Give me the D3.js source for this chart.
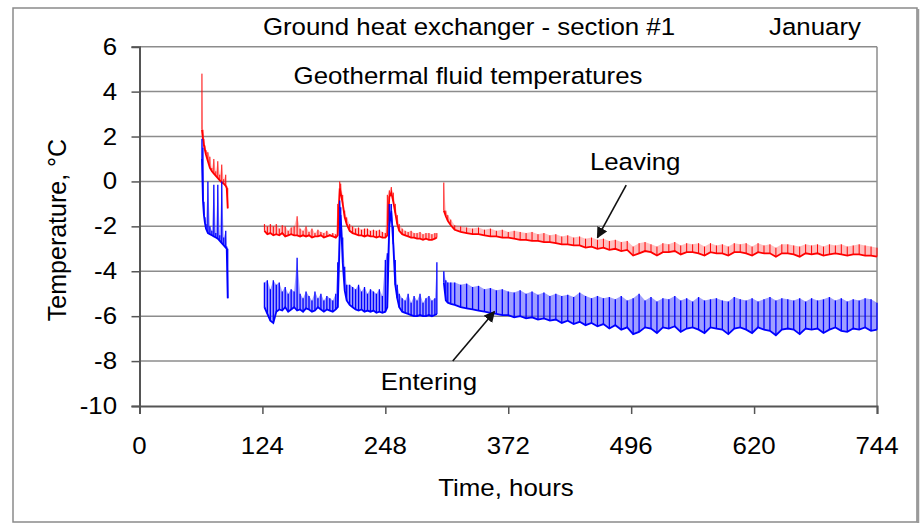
<!DOCTYPE html>
<html><head><meta charset="utf-8">
<script src="https://cdn.jsdelivr.net/npm/d3@7"></script>
<style>html,body{margin:0;padding:0;background:#fff;} svg{display:block;}</style>
</head><body>
<script>
// ---- data ----
const xTicks = [0, 124, 248, 372, 496, 620, 744];
const yTicks = [-10, -8, -6, -4, -2, 0, 2, 4, 6];

const hours = [
  63,64,65,66,67,69,71,73,75,77,79,81,83,85,87,88,89,
  105,
  126,129,132,135,138,141,144,147,150,153,156,159,162,165,168,171,174,177,180,183,186,189,192,195,198,
  200,202,203,205,207,209,212,
  215,218,221,224,227,230,233,236,239,242,245,248,
  250,252,254,256,258,260,262,
  265,268,271,274,277,280,283,286,289,292,295,298,300,
  304,
  307,309,311,314,
  318,324,330,336,342,348,354,360,366,372,378,384,
  390,396,402,408,414,420,426,432,438,444,450,456,
  462,468,474,480,486,492,498,504,510,516,522,528,
  534,540,546,552,558,564,570,576,582,588,594,600,
  606,612,618,624,630,636,642,648,654,660,666,672,
  678,684,690,696,702,708,714,720,726,732,738,744
];

const leavingLow = [
  2.3,1.9,1.6,1.4,1.2,0.9,0.6,0.45,0.35,0.25,0.15,0.05,-0.05,-0.1,-0.2,-0.3,-1.2,
  null,
  -2.2,-2.35,-2.3,-2.4,-2.35,-2.4,-2.3,-2.45,-2.4,-2.35,-2.4,-2.4,-2.45,-2.4,-2.45,-2.4,-2.5,-2.45,-2.45,-2.4,-2.5,-2.45,-2.4,-2.45,-2.5,
  -2.4,-0.3,-0.5,-1.0,-1.6,-1.9,-2.2,
  -2.3,-2.35,-2.4,-2.4,-2.45,-2.4,-2.45,-2.45,-2.5,-2.45,-2.5,-2.5,
  -2.4,-0.7,-0.5,-0.9,-1.4,-1.9,-2.2,
  -2.35,-2.4,-2.45,-2.5,-2.5,-2.55,-2.55,-2.6,-2.55,-2.6,-2.6,-2.55,-2.5,
  null,
  -1.3,-1.55,-1.75,-1.95,
  -2.15,-2.25,-2.3,-2.35,-2.35,-2.4,-2.45,-2.45,-2.5,-2.5,-2.55,-2.6,
  -2.6,-2.65,-2.65,-2.7,-2.7,-2.75,-2.8,-2.8,-2.85,-2.85,-2.95,-2.9,
  -3.0,-2.95,-3.05,-3.0,-3.1,-3.05,-3.3,-3.2,-3.1,-3.15,-3.3,-3.15,
  -3.15,-3.1,-3.25,-3.15,-3.15,-3.2,-3.3,-3.15,-3.2,-3.2,-3.3,-3.15,
  -3.15,-3.2,-3.3,-3.15,-3.2,-3.2,-3.35,-3.2,-3.2,-3.25,-3.35,-3.2,
  -3.25,-3.2,-3.3,-3.25,-3.2,-3.25,-3.3,-3.25,-3.25,-3.3,-3.3,-3.35
];
const leavingHigh = [
  4.8,2.3,1.9,1.6,1.4,1.3,1.1,0.6,1.0,0.45,0.9,0.3,0.75,0.1,0.3,-0.2,-0.3,
  null,
  -1.9,-2.0,-1.9,-2.0,-1.9,-2.1,-1.95,-2.0,-2.2,-2.05,-2.0,-1.55,-2.1,-2.2,-2.0,-2.25,-2.1,-2.3,-2.15,-2.25,-2.3,-2.2,-2.35,-2.3,-2.35,
  -1.0,0.0,-0.1,-0.6,-1.3,-1.6,-1.9,
  -2.0,-2.1,-2.05,-2.15,-2.1,-2.1,-2.2,-2.15,-2.2,-2.15,-2.25,-2.3,
  -0.6,-0.4,-0.25,-0.5,-1.0,-1.5,-1.9,
  -2.1,-2.2,-2.25,-2.2,-2.3,-2.3,-2.25,-2.35,-2.3,-2.3,-2.35,-2.3,-2.3,
  null,
  -0.05,-1.3,-1.5,-1.7,
  -1.95,-2.0,-2.05,-2.1,-2.05,-2.15,-2.1,-2.2,-2.15,-2.25,-2.2,-2.25,
  -2.3,-2.25,-2.35,-2.3,-2.4,-2.35,-2.45,-2.4,-2.5,-2.45,-2.55,-2.5,
  -2.6,-2.55,-2.65,-2.6,-2.7,-2.65,-2.9,-2.75,-2.7,-2.8,-2.9,-2.75,
  -2.8,-2.7,-2.85,-2.75,-2.8,-2.75,-2.9,-2.75,-2.85,-2.8,-2.9,-2.75,
  -2.8,-2.75,-2.9,-2.75,-2.85,-2.8,-2.95,-2.8,-2.8,-2.85,-2.9,-2.8,
  -2.85,-2.8,-2.9,-2.8,-2.85,-2.8,-2.9,-2.85,-2.8,-2.85,-2.9,-2.95
];
const enteringLow = [
  1.0,-0.85,-1.5,-1.85,-2.1,-2.3,-2.35,-2.4,-2.45,-2.5,-2.55,-2.65,-2.75,-2.85,-2.95,-3.0,-5.2,
  null,
  -5.6,-5.9,-6.2,-6.3,-5.8,-5.7,-5.75,-5.6,-5.8,-5.7,-5.6,-5.75,-5.7,-5.8,-5.65,-5.7,-5.8,-5.75,-5.6,-5.7,-5.8,-5.7,-5.75,-5.8,-5.7,
  -5.6,-2.5,-1.5,-3.6,-4.85,-5.3,-5.5,
  -5.6,-5.7,-5.75,-5.7,-5.8,-5.75,-5.8,-5.75,-5.85,-5.8,-5.85,-5.8,
  -5.6,-2.0,-1.3,-2.8,-4.6,-5.2,-5.6,
  -5.8,-5.85,-5.9,-5.95,-6.0,-6.0,-5.95,-6.0,-6.0,-5.95,-6.0,-5.95,-5.9,
  null,
  -4.5,-5.3,-5.4,-5.45,
  -5.5,-5.6,-5.65,-5.7,-5.75,-5.8,-5.85,-5.9,-5.95,-5.95,-6.05,-6.0,
  -6.1,-6.05,-6.15,-6.1,-6.2,-6.15,-6.3,-6.2,-6.35,-6.25,-6.4,-6.3,
  -6.45,-6.35,-6.55,-6.4,-6.6,-6.5,-6.8,-6.7,-6.5,-6.55,-6.75,-6.5,
  -6.55,-6.45,-6.7,-6.55,-6.5,-6.6,-6.75,-6.5,-6.55,-6.6,-6.8,-6.55,
  -6.5,-6.6,-6.75,-6.5,-6.6,-6.65,-6.85,-6.6,-6.55,-6.6,-6.8,-6.55,
  -6.6,-6.55,-6.75,-6.6,-6.5,-6.65,-6.7,-6.55,-6.6,-6.5,-6.65,-6.6
];
const enteringHigh = [
  1.9,1.5,-0.9,-1.6,-1.9,0.0,-2.0,-2.2,-0.15,-2.3,-0.15,-2.4,0.0,-2.5,-2.2,-2.9,-3.0,
  null,
  -4.5,-4.4,-4.8,-4.4,-4.6,-4.5,-4.9,-4.7,-5.0,-4.8,-4.9,-3.4,-5.0,-5.2,-4.9,-5.1,-5.3,-4.9,-5.2,-5.0,-5.3,-5.1,-5.2,-5.3,-5.0,
  -3.6,-0.85,-1.15,-2.5,-3.8,-4.6,-4.6,
  -4.7,-4.8,-4.6,-4.9,-4.7,-5.0,-4.8,-4.9,-5.0,-4.8,-5.1,-3.5,
  -3.2,-1.0,-1.0,-2.0,-3.5,-4.6,-5.0,
  -5.2,-5.3,-5.0,-5.4,-5.1,-5.3,-5.0,-5.4,-5.2,-5.1,-5.3,-5.2,-3.6,
  null,
  -4.0,-4.4,-4.5,-4.5,
  -4.5,-4.6,-4.55,-4.7,-4.65,-4.8,-4.75,-4.85,-4.8,-4.9,-4.95,-4.85,
  -5.0,-4.9,-5.05,-4.95,-5.1,-5.0,-5.1,-5.05,-5.15,-4.95,-5.1,-5.2,
  -5.1,-5.2,-5.15,-5.25,-5.1,-5.3,-5.2,-5.0,-5.3,-5.15,-5.35,-5.2,
  -5.25,-5.1,-5.3,-5.2,-5.35,-5.15,-5.3,-5.25,-5.2,-5.3,-5.35,-5.15,
  -5.25,-5.3,-5.2,-5.35,-5.25,-5.15,-5.3,-5.2,-5.25,-5.3,-5.2,-5.35,
  -5.2,-5.3,-5.25,-5.15,-5.3,-5.2,-5.35,-5.25,-5.3,-5.2,-5.25,-5.4
];

// ---- drawing ----
const W = 923, H = 525;
const svg = d3.select("body").append("svg").attr("width", W).attr("height", H);
const FONT = "'Liberation Sans', Arial, Helvetica, sans-serif";
const x = d3.scaleLinear().domain([0, 744]).range([139.5, 877]);
const y = d3.scaleLinear().domain([-10, 6]).range([406, 46.7]);

// outer frame
svg.append("rect").attr("x", 13).attr("y", 8).attr("width", 904).attr("height", 514)
  .attr("fill", "#fff").attr("stroke", "#8a8a8a").attr("stroke-width", 1.5);
svg.append("line").attr("x1", 918).attr("x2", 918).attr("y1", 9).attr("y2", 523)
  .attr("stroke", "#9a9a9a").attr("stroke-width", 2.5);

// gridlines
svg.append("g").selectAll("line").data(yTicks.filter(v => v > -10)).join("line")
  .attr("x1", x(0)).attr("x2", x(744)).attr("y1", d => y(d)).attr("y2", d => y(d))
  .attr("stroke", "#8c8c8c").attr("stroke-width", 1.5);
// right border
svg.append("line").attr("x1", x(744)).attr("x2", x(744)).attr("y1", y(6)).attr("y2", y(-10))
  .attr("stroke", "#8c8c8c").attr("stroke-width", 1.5);

function series(low, high, color, light, fillOp, spikeW) {
  const pts = hours.map((t, i) => ({ t, lo: low[i], hi: high[i] }));
  const def = d => d.lo != null;
  const g = svg.append("g");
  g.append("path").datum(pts)
    .attr("d", d3.area().defined(def).x(d => x(d.t)).y0(d => y(d.lo)).y1(d => y(d.hi)))
    .attr("fill", light).attr("fill-opacity", fillOp).attr("stroke", "none");
  g.append("g").selectAll("line").data(pts.filter(def)).join("line")
    .attr("x1", d => x(d.t)).attr("x2", d => x(d.t))
    .attr("y1", d => y(d.lo)).attr("y2", d => y(d.hi))
    .attr("stroke", color).attr("stroke-width", spikeW);
  g.append("path").datum(pts)
    .attr("d", d3.line().defined(def).x(d => x(d.t)).y(d => y(d.lo)))
    .attr("fill", "none").attr("stroke", color).attr("stroke-width", 1.8);
}
series(leavingLow, leavingHigh, "#ff0000", "#ff6060", 0.4, 1.0);
series(enteringLow, enteringHigh, "#0000ff", "#5050ff", 0.55, 1.3);

// axes
const yAxis = d3.axisLeft(y).tickValues(yTicks).tickSize(8).tickFormat("");
const gy = svg.append("g").attr("transform", `translate(${x(0)},0)`).call(yAxis);
gy.select(".domain").attr("stroke", "#555").attr("stroke-width", 2);
gy.selectAll(".tick line").attr("stroke", "#555").attr("stroke-width", 1.5);
const xAxis = d3.axisBottom(x).tickValues(xTicks).tickSize(8).tickFormat("");
const gx = svg.append("g").attr("transform", `translate(0,${y(-10)})`).call(xAxis);
gx.select(".domain").attr("stroke", "#555").attr("stroke-width", 2);
gx.selectAll(".tick line").attr("stroke", "#555").attr("stroke-width", 1.5);

const SX = 1.1, FS = 23.5;
function label(px, py, str, anchor, size) {
  svg.append("text").attr("transform", `translate(${px},${py}) scale(${SX},1)`)
    .attr("text-anchor", anchor).attr("font-family", FONT).attr("font-size", size || FS)
    .attr("fill", "#000").text(str);
}
yTicks.forEach(v => label(117, y(v) + 8, String(v), "end"));
xTicks.forEach(v => label(x(v), 454, String(v), "middle"));
label(506, 496, "Time, hours", "middle");
svg.append("text").attr("transform", `translate(66,230) rotate(-90)`)
  .attr("text-anchor", "middle").attr("font-family", FONT).attr("font-size", 25)
  .attr("fill", "#000").text("Temperature, °C");

label(469, 35, "Ground heat exchanger - section #1", "middle");
label(815, 35, "January", "middle");
label(468, 84, "Geothermal fluid temperatures", "middle");
label(x(500), y(0.5), "Leaving", "middle");
label(x(292), y(-9.28), "Entering", "middle");

// arrows
const defs = svg.append("defs");
defs.append("marker").attr("id", "ah").attr("viewBox", "0 0 10 10").attr("refX", 9).attr("refY", 5)
  .attr("markerWidth", 7).attr("markerHeight", 7).attr("orient", "auto")
  .append("path").attr("d", "M0,0 L10,5 L0,10 z").attr("fill", "#111");
const arrows = [
  { t0: 491, v0: -0.16, t1: 462, v1: -2.5 },
  { t0: 316, v0: -8.0, t1: 358, v1: -5.8 }
];
svg.append("g").selectAll("line").data(arrows).join("line")
  .attr("x1", d => x(d.t0)).attr("y1", d => y(d.v0)).attr("x2", d => x(d.t1)).attr("y2", d => y(d.v1))
  .attr("stroke", "#111").attr("stroke-width", 1.6).attr("marker-end", "url(#ah)");
</script>
</body></html>
